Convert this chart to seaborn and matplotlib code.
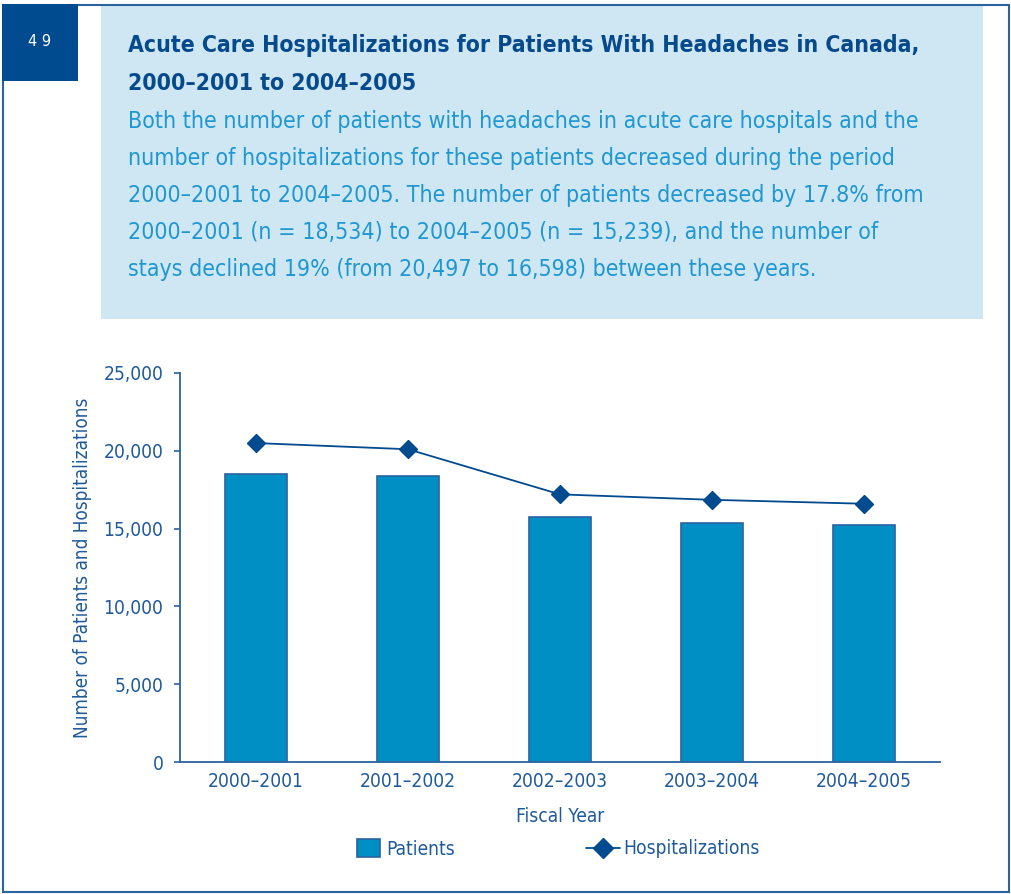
import matplotlib
matplotlib.use("Agg")
import matplotlib.pyplot as plt
import matplotlib.patches as mpatches
from matplotlib.lines import Line2D
from matplotlib.ticker import FuncFormatter, FixedLocator
from matplotlib import font_manager as fm
import seaborn as sns
import pandas as pd

# ---------------------------------------------------------------------------
# data
# ---------------------------------------------------------------------------
years = ["2000\u20132001", "2001\u20132002", "2002\u20132003", "2003\u20132004", "2004\u20132005"]
patients = [18534, 18400, 15750, 15380, 15239]
hospitalizations = [20497, 20100, 17200, 16850, 16598]

title_lines = [
    "Acute Care Hospitalizations for Patients With Headaches in Canada,",
    "2000\u20132001 to 2004\u20132005",
]
body_lines = [
    "Both the number of patients with headaches in acute care hospitals and the",
    "number of hospitalizations for these patients decreased during the period",
    "2000\u20132001 to 2004\u20132005. The number of patients decreased by 17.8% from",
    "2000\u20132001 (n = 18,534) to 2004\u20132005 (n = 15,239), and the number of",
    "stays declined 19% (from 20,497 to 16,598) between these years.",
]

DARK = "#004a8f"
BAR = "#008fc5"
AXIS = "#2b62a0"
TEXT = "#1f5a9a"
BODY = "#1f97d0"
BOX = "#cfe7f3"

sns.set_theme(style="white")

# pick a narrow face if the machine has one
STRETCH = "normal"
FONT = "Liberation Sans"
for f in fm.fontManager.ttflist:
    if f.name == "DejaVu Sans" and str(f.stretch) == "condensed":
        FONT, STRETCH = "DejaVu Sans", "condensed"
plt.rcParams["font.family"] = [FONT, "DejaVu Sans"]
plt.rcParams["font.stretch"] = STRETCH

W, H = 1011, 894
fig = plt.figure(figsize=(W / 100, H / 100), dpi=100, facecolor="white")
renderer = fig.canvas.get_renderer()


def fx(px):
    return px / W


def fy(py):
    return 1 - py / H


def fit(txt, target):
    # scale font size so the text spans `target` pixels
    w = txt.get_window_extent(renderer).width
    txt.set_fontsize(txt.get_fontsize() * target / w)
    return txt.get_fontsize()


# page furniture
fig.add_artist(mpatches.Rectangle((fx(101), fy(319)), fx(882), 315 / H,
                                  transform=fig.transFigure, facecolor=BOX,
                                  edgecolor="none", zorder=0))
fig.add_artist(mpatches.Rectangle((fx(2.5), fy(891.5)), fx(1006), 887 / H,
                                  transform=fig.transFigure, facecolor="none",
                                  edgecolor=AXIS, linewidth=1.5, zorder=1))
fig.add_artist(mpatches.Rectangle((fx(2), fy(81)), fx(76), 77 / H,
                                  transform=fig.transFigure, facecolor=DARK,
                                  edgecolor="none", zorder=2))
fig.text(fx(40), fy(41), "4 9", color="white", fontsize=10.5,
         family="DejaVu Sans", fontstretch="normal", ha="center", va="center", zorder=3)

tt = [fig.text(fx(128), fy(b), ln, color="#074a8c", fontsize=19, fontweight="bold",
               ha="left", va="baseline") for ln, b in zip(title_lines, [52, 90])]
size = fit(tt[0], 790)
tt[1].set_fontsize(size)

bt = [fig.text(fx(128), fy(b), ln, color=BODY, fontsize=19, ha="left", va="baseline")
      for ln, b in zip(body_lines, [128, 165, 202, 239, 276])]
size = fit(bt[0], 787)
for t in bt[1:]:
    t.set_fontsize(size)

# ---------------------------------------------------------------------------
# chart
# ---------------------------------------------------------------------------
ax = fig.add_axes([fx(180), fy(762), fx(760), 389 / H])
df = pd.DataFrame({"year": years, "patients": patients, "hosp": hospitalizations})

sns.barplot(data=df, x="year", y="patients", color=BAR, width=0.41,
            edgecolor=AXIS, linewidth=1.2, saturation=1, ax=ax)
sns.pointplot(data=df, x="year", y="hosp", color=DARK, markers="D",
              linestyles="-", markersize=9, linewidth=1.3, ax=ax)

ax.set_xlim(-0.5, 4.5)
ax.set_ylim(0, 25000)
ax.set_yticks(range(0, 25001, 5000))
ax.yaxis.set_major_formatter(FuncFormatter(lambda v, p: f"{int(v):,}"))

for s in ["top", "right"]:
    ax.spines[s].set_visible(False)
for s in ["left", "bottom"]:
    ax.spines[s].set_color(AXIS)
    ax.spines[s].set_linewidth(1.3)

ax.xaxis.set_minor_locator(FixedLocator([-0.5, 0.5, 1.5, 2.5, 3.5, 4.5]))
ax.tick_params(axis="x", which="major", length=0, pad=7, labelcolor=TEXT)
ax.tick_params(axis="x", which="minor", length=5, width=1.2, color=AXIS, direction="out")
ax.tick_params(axis="y", length=4, width=1.2, color=AXIS, direction="out",
               labelcolor=TEXT, left=True, pad=8)

xl = ax.set_xlabel("Fiscal Year", color=TEXT, labelpad=12)
yl = ax.set_ylabel("Number of Patients and Hospitalizations", color=TEXT)
ax.yaxis.set_label_coords((92 - 180) / 760, 0.5)

fig.canvas.draw()
tick_size = fit(ax.get_yticklabels()[-1], 60)
ax.tick_params(axis="both", labelsize=tick_size)
xl.set_fontsize(tick_size)
yl.set_fontsize(tick_size)
yl_h = yl.get_window_extent(renderer).height
yl.set_fontsize(tick_size * 340 / yl_h)

leg1 = fig.legend(handles=[mpatches.Patch(facecolor=BAR, edgecolor=AXIS, linewidth=1.2,
                                          label="Patients")],
                  loc="center left", bbox_to_anchor=(fx(357), fy(849)), frameon=False,
                  fontsize=tick_size, borderpad=0, borderaxespad=0,
                  handlelength=1.2, handleheight=1.0, handletextpad=0.3)
leg2 = fig.legend(handles=[Line2D([0], [0], color=DARK, marker="D", markersize=10,
                                  linewidth=1.3, label="Hospitalizations")],
                  loc="center left", bbox_to_anchor=(fx(586), fy(849)), frameon=False,
                  fontsize=tick_size, borderpad=0, borderaxespad=0,
                  handlelength=1.75, handletextpad=0.2)
for lg in (leg1, leg2):
    for t in lg.get_texts():
        t.set_color(TEXT)

fig.savefig("out.png", dpi=100, facecolor="white")
